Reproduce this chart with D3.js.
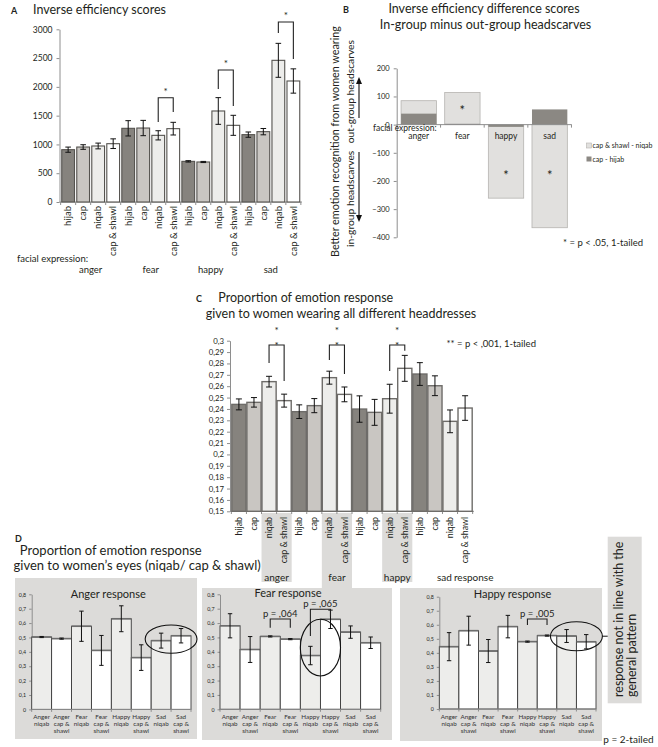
<!DOCTYPE html>
<html><head><meta charset="utf-8">
<script src="https://cdn.jsdelivr.net/npm/d3@7"></script>
<style>body{margin:0;background:#fff}svg{display:block}</style>
</head><body>
<script>
// ---------------- DATA ----------------
const headdresses = ["hijab", "cap", "niqab", "cap & shawl"];
const emotions = ["anger", "fear", "happy", "sad"];

// Panel A: inverse efficiency scores (emotion x headdress)
const ieScores = [909, 955, 973, 1013, 1280, 1285, 1158, 1274, 706, 695, 1581, 1332, 1170, 1222, 2461, 2102];
const ieErrors = [45, 40, 50, 84, 133, 133, 80, 110, 12, 10, 232, 174, 46, 55, 295, 211];
const ieTicks = [0, 500, 1000, 1500, 2000, 2500, 3000];
const ieBrackets = [
  {a: 6, b: 7, top: 1812, left: 1390, right: 1563},
  {a: 10, b: 11, top: 2293, left: 1963, right: 1668},
  {a: 14, b: 15, top: 3127, left: 2936, right: 2484}
];

// Panel B: difference scores
const diffCapShawlNiqab = [85, 114, -261, -366];
const diffCapHijab = [39, 3, -8, 54];
const diffTicks = [200, 100, 0, -100, -200, -300, -400];
const diffStars = [null, 58, -172, -172];
const diffLegend = ["cap & shawl - niqab", "cap - hijab"];

// Panel C: proportion of emotion response
const propScores = [0.2440, 0.2458, 0.2640, 0.2473, 0.2376, 0.2429, 0.2675, 0.2528, 0.2399, 0.2370, 0.2490, 0.2757, 0.2707, 0.2604, 0.2291, 0.2408];
const propErrors = [0.0048, 0.0042, 0.0047, 0.0057, 0.0060, 0.0062, 0.0057, 0.0065, 0.0116, 0.0114, 0.0127, 0.0114, 0.0100, 0.0087, 0.0100, 0.0108];
const propTicks = [0.15, 0.16, 0.17, 0.18, 0.19, 0.2, 0.21, 0.22, 0.23, 0.24, 0.25, 0.26, 0.27, 0.28, 0.29, 0.3];
const propBrackets = [
  {a: 2, b: 3, top: 0.2962, left: 0.2804, right: 0.2646},
  {a: 6, b: 7, top: 0.2962, left: 0.2830, right: 0.2707},
  {a: 10, b: 11, top: 0.2962, left: 0.2734, right: 0.2912}
];

// Panel D: responses given to eyes
const eyeEmotions = ["Anger", "Anger", "Fear", "Fear", "Happy", "Happy", "Sad", "Sad"];
const eyeHeaddress = ["niqab", "cap & shawl", "niqab", "cap & shawl", "niqab", "cap & shawl", "niqab", "cap & shawl"];
const eyeTicks = [0, 0.1, 0.2, 0.3, 0.4, 0.5, 0.6, 0.7, 0.8];
const angerResponse = [0.503, 0.492, 0.578, 0.410, 0.630, 0.360, 0.478, 0.512];
const angerErrors = [0.004, 0.004, 0.105, 0.104, 0.090, 0.089, 0.052, 0.050];
const fearResponse = [0.581, 0.416, 0.507, 0.488, 0.374, 0.626, 0.537, 0.463];
const fearErrors = [0.084, 0.090, 0.004, 0.004, 0.064, 0.064, 0.043, 0.040];
const happyResponse = [0.444, 0.558, 0.413, 0.587, 0.480, 0.523, 0.520, 0.479];
const happyErrors = [0.100, 0.103, 0.082, 0.080, 0.004, 0.004, 0.046, 0.051];

// ---------------- STYLE ----------------
const FONT = 'Lato, "Open Sans", sans-serif';
const TXT = "#231f20";
const AX = "#8e8e8e";
const PANEL = "#dcdbd9";
const fillBy = {"hijab": "#86837e", "cap": "#c9c6c2", "niqab": "#ededeb", "cap & shawl": "#ffffff"};
const commaFmt = d3.formatLocale({decimal: ",", thousands: ".", grouping: [3], currency: ["", ""]});

const svg = d3.select("body").append("svg").attr("width", 658).attr("height", 747)
  .style("font-family", FONT);

function text(g, x, y, s, size, o = {}) {
  const t = g.append("text").attr("x", x).attr("y", y).attr("font-size", size)
    .attr("fill", o.fill || TXT).text(s);
  if (o.anchor) t.attr("text-anchor", o.anchor);
  if (o.weight) t.attr("font-weight", o.weight);
  if (o.dy) t.attr("dy", o.dy);
  if (o.rotate) t.attr("transform", `rotate(${o.rotate},${x},${y})`);
  return t;
}
function styleAxis(sel, fs) {
  sel.select(".domain").attr("stroke", AX);
  sel.selectAll(".tick line").attr("stroke", AX);
  sel.selectAll(".tick text").attr("font-size", fs).attr("fill", TXT).attr("font-family", FONT);
}
function star(g, x, cy, fs) {
  return text(g, x, cy + 0.55 * fs, "*", fs, {anchor: "middle"});
}
function errorBars(g, xs, ys, vals, errs, cap) {
  vals.forEach((v, i) => {
    const cx = xs(i) + xs.bandwidth() / 2;
    g.append("line").attr("x1", cx).attr("x2", cx).attr("y1", ys(v - errs[i])).attr("y2", ys(v + errs[i]))
      .attr("stroke", "#111").attr("stroke-width", 1);
    [v - errs[i], v + errs[i]].forEach(e => g.append("line").attr("x1", cx - cap).attr("x2", cx + cap)
      .attr("y1", ys(e)).attr("y2", ys(e)).attr("stroke", "#111").attr("stroke-width", 1));
  });
}
function bandEdges(xs, n) {
  const s = xs.step(), pi = xs.paddingInner() * s;
  const arr = d3.range(n).map(i => xs(i) - pi / 2);
  arr.push(xs(n - 1) + xs.bandwidth() + pi / 2);
  return arr;
}
function bracket(g, xs, ys, br) {
  const xa = xs(br.a) + xs.bandwidth() / 2, xb = xs(br.b) + xs.bandwidth() / 2;
  g.append("path").attr("d", `M${xa},${ys(br.left)}V${ys(br.top)}H${xb}V${ys(br.right)}`)
    .attr("fill", "none").attr("stroke", "#222").attr("stroke-width", 1.1);
  return (xa + xb) / 2;
}

// ---------------- PANEL A ----------------
{
  const g = svg.append("g");
  const x = d3.scaleBand().domain(d3.range(16)).range([59.5, 302]).paddingInner(0.15).paddingOuter(0.15);
  const y = d3.scaleLinear().domain([0, 3000]).range([202, 29.3]);
  text(g, 11, 13.5, "A", 9, {weight: "bold"});
  text(g, 33, 13.5, "Inverse efficiency scores", 12.5);
  g.append("g").attr("transform", "translate(59.5,0)")
    .call(d3.axisLeft(y).tickValues(ieTicks).tickFormat(d3.format("d")).tickSize(3).tickSizeOuter(0).tickPadding(4))
    .call(styleAxis, 8.5);
  g.append("line").attr("x1", 59.5).attr("x2", 302).attr("y1", 202).attr("y2", 202).attr("stroke", AX);
  bandEdges(x, 16).forEach(e => g.append("line").attr("x1", e).attr("x2", e).attr("y1", 202).attr("y2", 205).attr("stroke", AX));
  ieScores.forEach((v, i) => {
    g.append("rect").attr("x", x(i)).attr("y", y(v)).attr("width", x.bandwidth()).attr("height", y(0) - y(v))
      .attr("fill", fillBy[headdresses[i % 4]]).attr("stroke", "#55534f").attr("stroke-width", 1.1);
    const cx = x(i) + x.bandwidth() / 2;
    text(g, cx, 206, headdresses[i % 4], 9.5, {anchor: "end", rotate: -90, dy: "0.35em"});
  });
  errorBars(g, x, y, ieScores, ieErrors, 2.8);
  ieBrackets.forEach(br => { const m = bracket(g, x, y, br); star(g, m, y(br.top) - 8, 10); });
  text(g, 17, 262, "facial expression:", 9.5);
  emotions.forEach((e, k) => {
    const cx = (x(k * 4) + x(k * 4 + 3) + x.bandwidth()) / 2;
    text(g, cx, 272.5, e, 9.5, {anchor: "middle"});
  });
}

// ---------------- PANEL B ----------------
{
  const g = svg.append("g");
  const x = d3.scaleBand().domain(emotions).range([396.7, 571.7]).paddingInner(0.19).paddingOuter(0.1);
  const y = d3.scaleLinear().domain([-400, 200]).range([237.3, 68.3]);
  text(g, 343, 13.3, "B", 9, {weight: "bold"});
  text(g, 484, 13.3, "Inverse efficiency difference scores", 12.5, {anchor: "middle"});
  text(g, 485.5, 29.3, "In-group minus out-group headscarves", 12.5, {anchor: "middle"});
  g.append("g").attr("transform", "translate(396.7,0)")
    .call(d3.axisLeft(y).tickValues(diffTicks).tickSize(3).tickSizeOuter(0).tickPadding(4))
    .call(styleAxis, 7.5);
  emotions.forEach((e, i) => {
    const v = diffCapShawlNiqab[i];
    g.append("rect").attr("x", x(e)).attr("y", y(Math.max(0, v))).attr("width", x.bandwidth())
      .attr("height", Math.abs(y(v) - y(0))).attr("fill", "#e1e0de").attr("stroke", "#b5b3b0").attr("stroke-width", 0.8);
    const d = diffCapHijab[i];
    g.append("rect").attr("x", x(e)).attr("y", y(Math.max(0, d))).attr("width", x.bandwidth())
      .attr("height", Math.max(1, Math.abs(y(d) - y(0)))).attr("fill", "#8b8883");
  });
  g.append("line").attr("x1", 396.7).attr("x2", 571.7).attr("y1", y(0)).attr("y2", y(0)).attr("stroke", AX);
  const eds = [x("anger") - x.step() * x.paddingInner() / 2];
  emotions.forEach(e => eds.push(x(e) + x.bandwidth() + x.step() * x.paddingInner() / 2));
  eds.forEach(e => g.append("line").attr("x1", e).attr("x2", e).attr("y1", y(0)).attr("y2", y(0) + 3).attr("stroke", AX));
  emotions.forEach((e, i) => {
    text(g, x(e) + x.bandwidth() / 2, 138.5, e, 8.5, {anchor: "middle"});
    if (diffStars[i] !== null) star(g, x(e) + x.bandwidth() / 2, y(diffStars[i]), 13);
  });
  text(g, 373, 130.5, "facial expression:", 8.5);
  // legend
  const lc = ["#e1e0de", "#8b8883"];
  diffLegend.forEach((l, i) => {
    g.append("rect").attr("x", 586.5).attr("y", 143 + i * 13.5).attr("width", 5).attr("height", 5)
      .attr("fill", lc[i]).attr("stroke", i === 0 ? "#b5b3b0" : "none").attr("stroke-width", 0.6);
    text(g, 592.5, 148.3 + i * 13.5, l, 7);
  });
  text(g, 563, 245.5, "* = p < .05, 1-tailed", 9.5);
  // y axis title
  text(g, 335.5, 141.5, "Better emotion recognition from women wearing", 10.8, {anchor: "middle", rotate: -90, dy: "0.35em"});
  text(g, 350.5, 40, "out-group headscarves", 10.3, {anchor: "end", rotate: -90, dy: "0.35em"});
  text(g, 350.5, 247, "in-group headscarves", 10.3, {anchor: "start", rotate: -90, dy: "0.35em"});
  g.append("line").attr("x1", 359).attr("x2", 359).attr("y1", 118).attr("y2", 83).attr("stroke", "#333").attr("stroke-width", 1.3);
  g.append("path").attr("d", "M359,77L356,84H362Z").attr("fill", "#111");
  g.append("line").attr("x1", 359).attr("x2", 359).attr("y1", 152).attr("y2", 216).attr("stroke", "#333").attr("stroke-width", 1.3);
  g.append("path").attr("d", "M359,222L356,215H362Z").attr("fill", "#111");
}

// ---------------- PANEL C ----------------
{
  const g = svg.append("g");
  const x = d3.scaleBand().domain(d3.range(16)).range([230, 474]).paddingInner(0.06).paddingOuter(0.12);
  const y = d3.scaleLinear().domain([0.15, 0.3]).range([511.3, 340.7]);
  text(g, 196, 301.5, "C", 9, {weight: "bold"});
  text(g, 218.3, 301.5, "Proportion of emotion response", 12.5);
  text(g, 341, 318.3, "given to women wearing all different headdresses", 12.5, {anchor: "middle"});
  // grey label boxes under niqab/cap & shawl for anger, fear, happy
  const boxBottom = [582, 588, 582];
  const gap = x.step() * x.paddingInner() / 2;
  [0, 1, 2].forEach(k => {
    const x0 = x(k * 4 + 2) - gap, x1 = x(k * 4 + 3) + x.bandwidth() + gap;
    g.append("rect").attr("x", x0).attr("y", 513).attr("width", x1 - x0).attr("height", boxBottom[k] - 513).attr("fill", PANEL);
  });
  g.append("g").attr("transform", "translate(230,0)")
    .call(d3.axisLeft(y).tickValues(propTicks).tickFormat(commaFmt.format(".2~f")).tickSize(3).tickSizeOuter(0).tickPadding(3))
    .call(styleAxis, 7.8);
  g.append("line").attr("x1", 230).attr("x2", 474).attr("y1", 511.3).attr("y2", 511.3).attr("stroke", AX);
  bandEdges(x, 16).forEach(e => g.append("line").attr("x1", e).attr("x2", e).attr("y1", 511.3).attr("y2", 514).attr("stroke", AX));
  propScores.forEach((v, i) => {
    g.append("rect").attr("x", x(i)).attr("y", y(v)).attr("width", x.bandwidth()).attr("height", y(0.15) - y(v))
      .attr("fill", fillBy[headdresses[i % 4]]).attr("stroke", "#6e6c69").attr("stroke-width", 1.4);
    text(g, x(i) + x.bandwidth() / 2, 517, headdresses[i % 4], 8.8, {anchor: "end", rotate: -90, dy: "0.35em"});
  });
  errorBars(g, x, y, propScores, propErrors, 3);
  propBrackets.forEach(br => {
    const m = bracket(g, x, y, br);
    star(g, m, y(br.top) - 2, 10);
    star(g, m, y(br.top) - 17, 10);
  });
  text(g, 446.5, 346.5, "** = p < ,001, 1-tailed", 9.5);
  // group labels
  ["anger", "fear", "happy"].forEach((e, k) => {
    const cx = (x(k * 4 + 2) + x(k * 4 + 3) + x.bandwidth()) / 2;
    text(g, cx, 580.5, e, 10, {anchor: "middle"});
  });
  text(g, x(14) - 6, 580.5, "sad", 10);
  text(g, x(14) + 11, 580.5, "response", 10);
}

// ---------------- PANEL D ----------------
{
  const g = svg.append("g");
  text(g, 15, 542, "D", 9, {weight: "bold"});
  text(g, 110.8, 554.5, "Proportion of emotion response", 13, {anchor: "middle"});
  text(g, 13.5, 570, "given to women\u2019s eyes (niqab/ cap & shawl)", 13);
}
function eyePanel(cfg) {
  const g = svg.append("g");
  g.append("rect").attr("x", cfg.bx0).attr("y", cfg.by0).attr("width", cfg.bx1 - cfg.bx0).attr("height", cfg.by1 - cfg.by0).attr("fill", PANEL);
  const x = d3.scaleBand().domain(d3.range(8)).range([cfg.x0, cfg.x1]).padding(0);
  const y = d3.scaleLinear().domain([0, 0.8]).range([cfg.yb, cfg.yt]);
  g.append("g").attr("transform", `translate(${cfg.x0},0)`)
    .call(d3.axisLeft(y).tickValues(eyeTicks).tickFormat(commaFmt.format(".1~f")).tickSize(2.5).tickSizeOuter(0).tickPadding(3))
    .call(styleAxis, 5.3);
  cfg.values.forEach((v, i) => {
    g.append("rect").attr("x", x(i)).attr("y", y(v)).attr("width", x.bandwidth()).attr("height", y(0) - y(v))
      .attr("fill", fillBy[eyeHeaddress[i]]).attr("stroke", "#3a3a3a").attr("stroke-width", 0.9);
    g.append("line").attr("x1", x(i)).attr("x2", x(i) + x.bandwidth()).attr("y1", y(v)).attr("y2", y(v))
      .attr("stroke", "#6d6d6d").attr("stroke-width", 1.6);
    const cx = x(i) + x.bandwidth() / 2;
    const lines = [eyeEmotions[i]].concat(eyeHeaddress[i] === "niqab" ? ["niqab"] : ["cap &", "shawl"]);
    lines.forEach((l, j) => text(g, cx, cfg.yb + 9.5 + j * 7, l, 6.3, {anchor: "middle", fill: "#333"}));
  });
  g.append("line").attr("x1", cfg.x0).attr("x2", cfg.x1).attr("y1", cfg.yb).attr("y2", cfg.yb).attr("stroke", AX);
  d3.range(9).forEach(i => {
    const e = cfg.x0 + i * x.step();
    g.append("line").attr("x1", e).attr("x2", e).attr("y1", cfg.yb).attr("y2", cfg.yb + 2.5).attr("stroke", AX);
  });
  errorBars(g, x, y, cfg.values, cfg.errors, 2.2);
  text(g, cfg.titleX, cfg.yt + cfg.titleDy, cfg.title, 11, {anchor: "middle"});
  (cfg.brackets || []).forEach(br => {
    const m = bracket(g, x, y, br);
    text(g, m, y(br.top) - 2, br.label, 9.5, {anchor: "middle"});
  });
  (cfg.ellipses || []).forEach(el => {
    const x0 = x(el.a) - el.pad, x1 = x(el.b) + x.bandwidth() + el.pad;
    g.append("ellipse").attr("cx", (x0 + x1) / 2).attr("cy", (y(el.lo) + y(el.hi)) / 2)
      .attr("rx", (x1 - x0) / 2).attr("ry", (y(el.lo) - y(el.hi)) / 2)
      .attr("fill", "none").attr("stroke", "#111").attr("stroke-width", 1.1);
    if (el.connect) g.append("line").attr("x1", x1).attr("x2", el.connect).attr("y1", (y(el.lo) + y(el.hi)) / 2)
      .attr("y2", (y(el.lo) + y(el.hi)) / 2).attr("stroke", "#111").attr("stroke-width", 1);
  });
  return g;
}
eyePanel({bx0: 15, bx1: 197, by0: 578, by1: 739, x0: 31.7, x1: 191, yb: 709.4, yt: 594.3,
  values: angerResponse, errors: angerErrors, title: "Anger response", titleX: 108.3, titleDy: 3.5,
  ellipses: [{a: 6, b: 7, pad: 6, lo: 0.39, hi: 0.587}]});
eyePanel({bx0: 202, bx1: 392, by0: 588, by1: 740, x0: 220, x1: 380.7, yb: 709.3, yt: 594.3,
  values: fearResponse, errors: fearErrors, title: "Fear response", titleX: 288, titleDy: 2.5,
  brackets: [{a: 2, b: 3, top: 0.628, left: 0.568, right: 0.568, label: "p = ,064"},
             {a: 4, b: 5, top: 0.696, left: 0.51, right: 0.644, label: "p = ,065"}],
  ellipses: [{a: 4, b: 5, pad: 0, lo: 0.232, hi: 0.626}]});
{
  const g = svg.append("g");
  g.append("rect").attr("x", 607.7).attr("y", 536.7).attr("width", 34).attr("height", 166.6).attr("fill", PANEL);
  text(g, 619, 697, "response not in line with the", 12.5, {rotate: -90, dy: "0.35em"});
  text(g, 632, 697, "general pattern", 12.5, {rotate: -90, dy: "0.35em"});
}
eyePanel({bx0: 400, bx1: 602, by0: 588, by1: 741, x0: 439.3, x1: 596, yb: 709, yt: 596.7,
  values: happyResponse, errors: happyErrors, title: "Happy response", titleX: 512.5, titleDy: 1,
  brackets: [{a: 4, b: 5, top: 0.641, left: 0.598, right: 0.598, label: "p = ,005"}],
  ellipses: [{a: 6, b: 7, pad: 6.4, lo: 0.415, hi: 0.622, connect: 607.7}]});
text(svg, 603.3, 743, "p = 2-tailed", 10);
</script>
</body></html>
